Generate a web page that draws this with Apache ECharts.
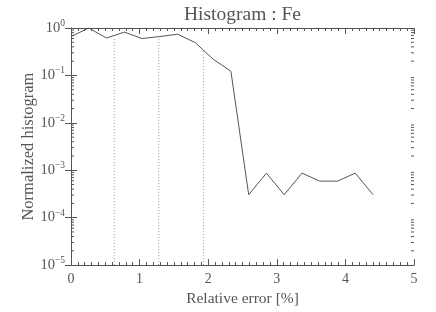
<!DOCTYPE html>
<html>
<head>
<meta charset="utf-8">
<script src="https://cdn.jsdelivr.net/npm/echarts@6/dist/echarts.min.js"></script>
<style>html,body{margin:0;padding:0;background:#fff}#c{width:436px;height:312px}</style>
</head>
<body>
<div id="c"></div>
<script>
var binX = [0, 0.259, 0.518, 0.777, 1.036, 1.295, 1.554, 1.813, 2.072, 2.331, 2.59, 2.849, 3.108, 3.367, 3.626, 3.885, 4.144, 4.403];
var binY = [0.66, 1.0, 0.615, 0.82, 0.60, 0.66, 0.74, 0.49, 0.22, 0.122, 3.05e-4, 8.7e-4, 3.05e-4, 8.7e-4, 5.9e-4, 5.9e-4, 8.7e-4, 3.05e-4];
var dropX = [0.63, 1.28, 1.93];
var dropY = [0.625, 0.67, 0.341];
var xTicks = [0, 1, 2, 3, 4, 5];
var yDecades = [1e-5, 1e-4, 1e-3, 1e-2, 1e-1, 1];
var titleText = 'Histogram : Fe';
var xName = 'Relative error [%]';
var yName = 'Normalized histogram';

var C = '#555';
var FONT = 'Liberation Serif';

var minorVals = [];
for (var d = 0; d < yDecades.length - 1; d++) {
  for (var m = 2; m <= 9; m++) minorVals.push(m * yDecades[d]);
}

var series = [{
  type: 'line', data: binX.map(function (x, i) { return [x, binY[i]]; }),
  symbol: 'none', lineStyle: { color: C, width: 1 }, animation: false, z: 3
}];
dropX.forEach(function (x, i) {
  series.push({
    type: 'line', data: [[x, yDecades[0]], [x, dropY[i]]], symbol: 'none',
    lineStyle: { color: '#999', width: 1, type: [1, 2] }, animation: false, z: 2
  });
});
series.push({
  type: 'custom', data: minorVals.map(function (v) { return [0, v]; }),
  animation: false, silent: true, clip: false,
  renderItem: function (params, api) {
    var v = api.value(1);
    var p = api.coord([xTicks[0], v]);
    var q = api.coord([xTicks[xTicks.length - 1], v]);
    var st = { stroke: C, lineWidth: 1 };
    return { type: 'group', children: [
      { type: 'line', shape: { x1: p[0], y1: p[1], x2: p[0] + 3, y2: p[1] }, style: st },
      { type: 'line', shape: { x1: q[0] - 3, y1: q[1], x2: q[0], y2: q[1] }, style: st }
    ]};
  }
});

function yLabel(v) {
  var e = Math.round(Math.log10(v));
  return '{b|10}{s|' + (e < 0 ? '\u2212' + (-e) : e) + '}';
}

var axCommon = {
  min: xTicks[0], max: xTicks[xTicks.length - 1], interval: 1,
  axisLine: { lineStyle: { color: C, width: 1 } },
  axisTick: { inside: true, length: 6, lineStyle: { color: C } },
  minorTick: { show: true, splitNumber: 10, length: 3, lineStyle: { color: C } },
  splitLine: { show: false }
};
var yCommon = {
  type: 'log', logBase: 10, min: yDecades[0], max: yDecades[yDecades.length - 1], interval: 1,
  axisLine: { show: true, lineStyle: { color: C, width: 1 } },
  axisTick: { show: true, inside: true, length: 6, lineStyle: { color: C } },
  splitLine: { show: false }
};

var option = {
  animation: false,
  grid: { left: 71, right: 22, top: 22, bottom: 45 },
  xAxis: [
    Object.assign({ type: 'value', position: 'bottom',
      name: xName, nameLocation: 'middle', nameGap: 22,
      nameTextStyle: { color: C, fontFamily: FONT, fontSize: 15.5 },
      axisLabel: { color: C, fontFamily: FONT, fontSize: 14, margin: 7 } }, axCommon),
    Object.assign({ type: 'value', position: 'top',
      name: titleText, nameLocation: 'middle', nameGap: 3,
      nameTextStyle: { color: C, fontFamily: FONT, fontSize: 19.5 },
      axisLabel: { show: false } }, axCommon)
  ],
  yAxis: [
    Object.assign({ position: 'left',
      name: yName, nameLocation: 'middle', nameGap: 34, nameMoveOverlap: false,
      nameTextStyle: { color: C, fontFamily: FONT, fontSize: 16.5 },
      axisLabel: { color: C, margin: 6, formatter: yLabel,
        rich: { b: { fontFamily: FONT, fontSize: 14.5, color: C },
                s: { fontFamily: FONT, fontSize: 9.5, color: C, verticalAlign: 'top', padding: [0, 0, 9, 0] } } } }, yCommon),
    Object.assign({ position: 'right', axisLabel: { show: false } }, yCommon)
  ],
  series: series
};
var chart = echarts.init(document.getElementById('c'), null, { renderer: 'canvas' });
chart.setOption(option);
</script>
</body>
</html>
